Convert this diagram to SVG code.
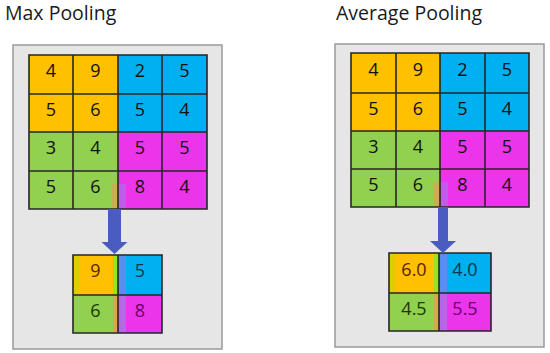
<svg xmlns="http://www.w3.org/2000/svg" width="550" height="353" viewBox="0 0 550 353">
<style>
.title{font-family:"Open Sans","Liberation Sans",sans-serif;font-size:19.5px;fill:#1a1a1a}
.num{font-family:"Open Sans","Liberation Sans",sans-serif;font-size:18px;fill:#111111;text-anchor:middle}
.panel{fill:#e6e6e6;stroke:#9a9a9a;stroke-width:1.5}
.o{fill:#ffc000}.b{fill:#00b0f0}.g{fill:#92d050}.m{fill:#ea35ea}
.grid{fill:none;stroke:#262626;stroke-width:1.6}
.arrow{fill:#4a5cc0}
</style>
<rect width="550" height="353" fill="#ffffff"/>
<text class="title" x="5" y="20">Max Pooling</text>
<text class="title" x="336" y="20">Average Pooling</text>

<g id="max-panel">
<rect class="panel" x="13" y="45" width="209" height="304"/>
</g>
<g id="avg-panel">
<rect class="panel" x="335" y="44" width="209" height="303"/>
</g>

<g id="max-input">
<rect class="o" x="29" y="55" width="89" height="77"/>
<rect class="b" x="118" y="55" width="89" height="77"/>
<rect class="g" x="29" y="132" width="89" height="77"/>
<rect class="m" x="118" y="132" width="89" height="77"/>
<rect x="112" y="184" width="6" height="25" fill="#d9a550" opacity="0.8"/>
<rect x="118" y="184" width="8" height="25" fill="#b865e8" opacity="0.8"/>
<path class="grid" d="M29 55H207V209H29Z M73 55V209 M118 55V209 M162 55V209 M29 94H207 M29 132H207 M29 171H207"/>
<text class="num" x="51" y="77">4</text><text class="num" x="95.5" y="77">9</text><text class="num" x="140" y="77">2</text><text class="num" x="184.5" y="77">5</text>
<text class="num" x="51" y="116">5</text><text class="num" x="95.5" y="116">6</text><text class="num" x="140" y="116">5</text><text class="num" x="184.5" y="116">4</text>
<text class="num" x="51" y="154">3</text><text class="num" x="95.5" y="154">4</text><text class="num" x="140" y="154">5</text><text class="num" x="184.5" y="154">5</text>
<text class="num" x="51" y="193">5</text><text class="num" x="95.5" y="193">6</text><text class="num" x="140" y="193">8</text><text class="num" x="184.5" y="193">4</text>
</g>

<g id="max-output">
<rect class="o" x="73" y="255" width="45" height="40"/>
<rect class="b" x="118" y="255" width="44" height="40"/>
<rect class="g" x="73" y="295" width="45" height="38"/>
<rect class="m" x="118" y="295" width="44" height="38"/>
<rect x="73" y="255" width="6" height="40" fill="#e0cc00"/>
<rect x="113" y="255" width="5" height="40" fill="#9be21a"/>
<rect x="118" y="255" width="8" height="40" fill="#5b8cf0"/>
<rect x="113" y="295" width="5" height="38" fill="#d9a550"/>
<rect x="118" y="295" width="8" height="38" fill="#b865e8"/>
<path class="grid" d="M73 255H162V333H73Z M118 255V333 M73 295H162"/>
<text class="num" x="95.5" y="277" style="fill:#5a2200">9</text>
<text class="num" x="140" y="277" style="fill:#003848">5</text>
<text class="num" x="95.5" y="317" style="fill:#173a00">6</text>
<text class="num" x="140" y="317" style="fill:#6a0068">8</text>
</g>

<g id="avg-input">
<rect class="o" x="351" y="53" width="89" height="78"/>
<rect class="b" x="440" y="53" width="89" height="78"/>
<rect class="g" x="351" y="131" width="89" height="76"/>
<rect class="m" x="440" y="131" width="89" height="76"/>
<rect x="434" y="182" width="6" height="25" fill="#d9a550" opacity="0.8"/>
<rect x="440" y="182" width="8" height="25" fill="#b865e8" opacity="0.8"/>
<path class="grid" d="M351 53H529V207H351Z M396 53V207 M440 53V207 M485 53V207 M351 93H529 M351 131H529 M351 169H529"/>
<text class="num" x="373.5" y="76">4</text><text class="num" x="418" y="76">9</text><text class="num" x="462.5" y="76">2</text><text class="num" x="507" y="76">5</text>
<text class="num" x="373.5" y="115">5</text><text class="num" x="418" y="115">6</text><text class="num" x="462.5" y="115">5</text><text class="num" x="507" y="115">4</text>
<text class="num" x="373.5" y="153">3</text><text class="num" x="418" y="153">4</text><text class="num" x="462.5" y="153">5</text><text class="num" x="507" y="153">5</text>
<text class="num" x="373.5" y="191">5</text><text class="num" x="418" y="191">6</text><text class="num" x="462.5" y="191">8</text><text class="num" x="507" y="191">4</text>
</g>

<g id="avg-output">
<rect class="o" x="389" y="253" width="50" height="40"/>
<rect class="b" x="439" y="253" width="52" height="40"/>
<rect class="g" x="389" y="293" width="50" height="38"/>
<rect class="m" x="439" y="293" width="52" height="38"/>
<rect x="389" y="253" width="6" height="40" fill="#e0cc00"/>
<rect x="434" y="253" width="5" height="40" fill="#9be21a"/>
<rect x="439" y="253" width="8" height="40" fill="#5b8cf0"/>
<rect x="434" y="293" width="5" height="38" fill="#d9a550"/>
<rect x="439" y="293" width="8" height="38" fill="#b865e8"/>
<path class="grid" d="M389 253H491V331H389Z M439 253V331 M389 293H491"/>
<text class="num" x="414" y="276" style="fill:#5a2200">6.0</text>
<text class="num" x="465" y="276" style="fill:#003848">4.0</text>
<text class="num" x="414" y="315" style="fill:#173a00">4.5</text>
<text class="num" x="465" y="315" style="fill:#6a0068">5.5</text>
</g>

<g id="connectors">
<path class="arrow" d="M108 209H121V242H127.5L114.5 254L101.5 242H108Z"/>
<path class="arrow" d="M438 207H448V241H456L443 253L430 241H438Z"/>
</g>
</svg>
